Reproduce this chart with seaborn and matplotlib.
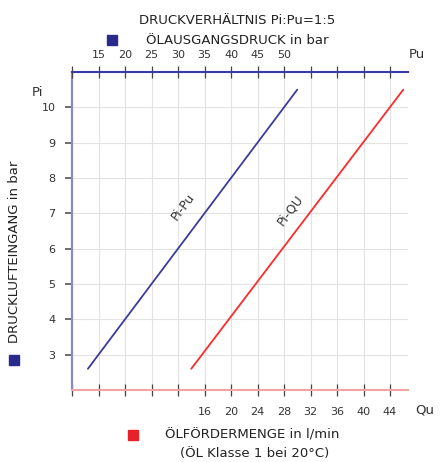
import numpy as np
import pandas as pd
import matplotlib
matplotlib.use("Agg")
import matplotlib.pyplot as plt
from matplotlib.patches import Rectangle
import seaborn as sns

# data (ratio Pi:Pu = 1:5)
pi_bar = [2.6, 10.5]
pu_bar = [13.0, 52.5]
qu_lmin = [14.0, 46.0]

qu_ticks = [-4, 0, 4, 8, 12, 16, 20, 24, 28, 32, 36, 40, 44]
qu_labels = ["", "", "", "", "", "16", "20", "24", "28", "32", "36", "40", "44"]
pu_ticks = [10, 15, 20, 25, 30, 35, 40, 45, 50, 55, 60, 65, 70]
pu_labels = ["", "15", "20", "25", "30", "35", "40", "45", "50", "", "", "", ""]
pi_ticks = [3, 4, 5, 6, 7, 8, 9, 10]

BLUE = "#3b3b9e"
RED = "#ff2a2a"
TXT = "#333333"

sns.set_style("ticks")
plt.rcParams["font.family"] = ["DejaVu Sans"]

df_q = pd.DataFrame({"Qu": qu_lmin, "Pi": pi_bar})
df_p = pd.DataFrame({"Pu": pu_bar, "Pi": pi_bar})

fig = plt.figure(figsize=(4.4, 4.62), dpi=100)
ax = fig.add_axes([72 / 440, 1 - 390 / 462, 336 / 440, 318 / 462])

# grid
for t in qu_ticks:
    ax.axvline(t, color="#e3e3e3", lw=0.8, zorder=0)
for t in pi_ticks:
    ax.axhline(t, color="#e3e3e3", lw=0.8, zorder=0)

sns.lineplot(data=df_q, x="Qu", y="Pi", ax=ax, color=RED, lw=1.3)
ax.set_xlim(-4, -4 + 336 / 26.5 * 4)
ax.set_ylim(2, 11)
ax.set_yticks(pi_ticks)
ax.set_yticklabels([str(v) for v in pi_ticks])

ax2 = ax.twiny()
sns.lineplot(data=df_p, x="Pu", y="Pi", ax=ax2, color=BLUE, lw=1.3)
ax2.set_xlim(10, 10 + 336 / 26.5 * 5)
ax.set_ylim(2, 11)

ax.set_xticks(qu_ticks)
ax.set_xticklabels(qu_labels)
ax2.set_xticks(pu_ticks)
ax2.set_xticklabels(pu_labels)
for a in (ax, ax2):
    a.set_xlabel("")
    a.set_ylabel("")

ax.tick_params(axis="x", bottom=True, top=False, direction="inout", length=8, width=0.9,
               color="#444444", labelsize=8, labelcolor=TXT, pad=8)
ax2.tick_params(axis="x", top=True, bottom=False, direction="inout", length=8, width=0.9,
                color="#444444", labelsize=8, labelcolor=TXT, pad=5)
ax.tick_params(axis="y", left=True, right=False, direction="out",
               length=5, width=1.1, color="#444444", labelsize=8,
               labelcolor=TXT, pad=7)

for a in (ax, ax2):
    for s in ("right", "top", "bottom", "left"):
        a.spines[s].set_visible(False)
ax.spines["bottom"].set_visible(True)
ax.spines["bottom"].set_color("#f4a3a3")
ax.spines["bottom"].set_linewidth(1.5)
ax.spines["left"].set_visible(True)
ax.spines["left"].set_color("#8a8acb")
ax.spines["left"].set_linewidth(1.6)
ax2.spines["top"].set_visible(True)
ax2.spines["top"].set_color("#3a3aa6")
ax2.spines["top"].set_linewidth(1.5)

# line labels
ax.text(0.330, 0.575, "Pi-Pu", transform=ax.transAxes, rotation=53,
        ha="center", va="center", fontsize=9, color=TXT)
ax.text(0.649, 0.566, "Pi-QU", transform=ax.transAxes, rotation=53,
        ha="center", va="center", fontsize=9, color=TXT)

# axis names
fig.text(417 / 440, 1 - 55 / 462, "Pu", ha="center", va="center", fontsize=9.5, color=TXT)
fig.text(425 / 440, 1 - 410 / 462, "Qu", ha="center", va="center", fontsize=9.5, color=TXT)
fig.text(37 / 440, 1 - 92 / 462, "Pi", ha="center", va="center", fontsize=9.5, color=TXT)

# headings
fig.text(237 / 440, 1 - 21 / 462, "DRUCKVERHÄLTNIS Pi:Pu=1:5", ha="center", va="center",
         fontsize=9.5, color="#222222")
fig.text(237 / 440, 1 - 40 / 462, "ÖLAUSGANGSDRUCK in bar", ha="center", va="center",
         fontsize=9.5, color="#222222")
fig.text(252 / 440, 1 - 435 / 462, "ÖLFÖRDERMENGE in l/min", ha="center", va="center",
         fontsize=9.5, color="#222222")
fig.text(255 / 440, 1 - 453 / 462, "(ÖL Klasse 1 bei 20°C)", ha="center", va="center",
         fontsize=9.5, color="#222222")
fig.text(15 / 440, 1 - 252 / 462, "DRUCKLUFTEINGANG in bar", ha="center", va="center",
         rotation=90, fontsize=9.5, color="#222222")

# legend squares
sq_w, sq_h = 10 / 440, 10 / 462
fig.add_artist(Rectangle((112 / 440 - sq_w / 2, 1 - 40 / 462 - sq_h / 2), sq_w, sq_h,
                         transform=fig.transFigure, color="#2a2a8c"))
fig.add_artist(Rectangle((133 / 440 - sq_w / 2, 1 - 435 / 462 - sq_h / 2), sq_w, sq_h,
                         transform=fig.transFigure, color="#e8202a"))
fig.add_artist(Rectangle((14 / 440 - sq_w / 2, 1 - 360 / 462 - sq_h / 2), sq_w, sq_h,
                         transform=fig.transFigure, color="#2a2a8c"))

fig.savefig("out.png", dpi=100)
